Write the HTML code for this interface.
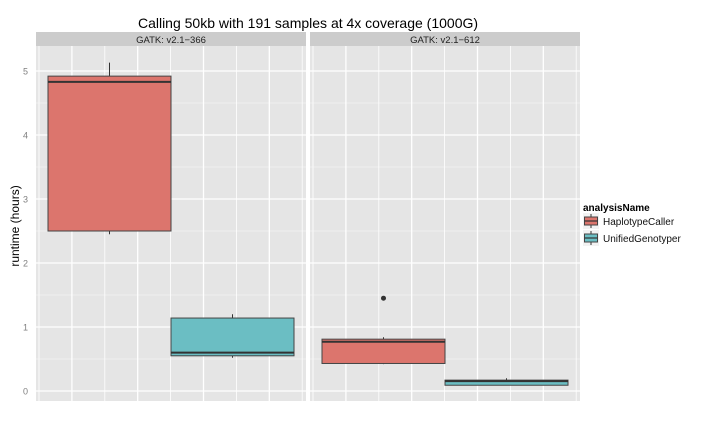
<!DOCTYPE html>
<html><head><meta charset="utf-8"><style>
body{margin:0;background:#fff;font-family:"Liberation Sans",sans-serif}
</style></head><body>
<svg id="chart" width="720" height="432" xmlns="http://www.w3.org/2000/svg" font-family="Liberation Sans, sans-serif">
<text x="308" y="28" text-anchor="middle" font-size="14">Calling 50kb with 191 samples at 4x coverage (1000G)</text>
<text transform="translate(19,226) rotate(-90)" text-anchor="middle" font-size="12">runtime (hours)</text>
<g id="legend">
<text x="583" y="211" font-size="10" font-weight="bold">analysisName</text>
</g>
<g id="panels"></g>
</svg>
<script>
const panels = ["GATK: v2.1\u2212366", "GATK: v2.1\u2212612"];
const groups = ["HaplotypeCaller", "UnifiedGenotyper"];
// per panel, per group: [lowerWhisker, q1, median, q3, upperWhisker]
const statsP1HC = [2.45, 2.5, 4.83, 4.92, 5.13];
const statsP1UG = [0.52, 0.55, 0.6, 1.14, 1.2];
const statsP2HC = [0.42, 0.43, 0.77, 0.81, 0.84];
const statsP2UG = [0.1, 0.09, 0.155, 0.17, 0.2];
const outliersP2HC = [1.45];
const yTicks = [0, 1, 2, 3, 4, 5];
const colors = ["#dc756d", "#6bbec3"];

const NS = "http://www.w3.org/2000/svg";
const gP = document.getElementById("panels");
function mk(tag, attrs, parent){const e=document.createElementNS(NS,tag);for(const k in attrs)e.setAttribute(k,attrs[k]);(parent||gP).appendChild(e);return e;}
const yScale = v => 391 - 64*v;
const panelX = [36, 310], panelW = 270, plotTop = 46, plotBottom = 401;
const stats = [[statsP1HC, statsP1UG],[statsP2HC, statsP2UG]];
const outliers = [[[],[]],[outliersP2HC,[]]];

panels.forEach((name, p) => {
  const x0 = panelX[p];
  const strip = mk("rect",{x:x0,y:32,width:panelW,height:14,fill:"#cccccc"});
  
  
  const st = mk("text",{x:x0+panelW/2,y:43,"text-anchor":"middle","font-size":"9.5",fill:"#222"});
  st.textContent = name;
  
  
  const bg = mk("rect",{x:x0,y:plotTop,width:panelW,height:plotBottom-plotTop,fill:"#e5e5e5"});
  
  
  for (let i=0;i<yTicks.length;i++){
    const v = yTicks[i]+0.5;
    if (yScale(v) > plotTop) { const l=mk("line",{x1:x0,x2:x0+panelW,y1:yScale(v),y2:yScale(v),stroke:"#f2f2f2","stroke-width":0.8});   }
  }
  yTicks.forEach(t => {
    const l=mk("line",{x1:x0,x2:x0+panelW,y1:yScale(t),y2:yScale(t),stroke:"#fff","stroke-width":1.3});
    
    
  });
  for (let i=0;i<9;i++){
    const gx = x0+3+i*32.9;
    const l=mk("line",{x1:gx,x2:gx,y1:plotTop,y2:plotBottom,stroke:"#fff","stroke-width":(i%2==1)?1.3:0.8});
    
    
  }
  const bw = 123, bx0 = x0+12;
  groups.forEach((g, gi) => {
    const s = stats[p][gi];
    const bx = bx0 + gi*bw, cx = bx + bw/2;
    const w = mk("line",{x1:cx,x2:cx,y1:yScale(s[4]),y2:yScale(s[0]),stroke:"#333","stroke-width":1});
    
    
    const lo=Math.min(s[1],s[3]), hi=Math.max(s[1],s[3]);
    const r = mk("rect",{x:bx,y:yScale(hi),width:bw,height:Math.max(1,yScale(lo)-yScale(hi)),fill:colors[gi],stroke:"#444","stroke-width":1});
    
    
    const m = mk("line",{x1:bx,x2:bx+bw,y1:yScale(s[2]),y2:yScale(s[2]),stroke:"#333","stroke-width":2});
    
    
    outliers[p][gi].forEach(o=>{
      const c = mk("circle",{cx:cx,cy:yScale(o),r:2.5,fill:"#333"});
      
      
    });
  });
});
yTicks.forEach(t=>{
  const tx = mk("text",{x:28,y:yScale(t)+3.5,"text-anchor":"end","font-size":"9",fill:"#7f7f7f"});
  tx.textContent = t;
  
  
});
const leg = document.getElementById("legend");
groups.forEach((g,i)=>{
  const ky = 213 + i*17;
  const kb = mk("rect",{x:583,y:ky,width:16,height:16,fill:"#f2f2f2"},leg);
  
  
  const kl = mk("line",{x1:591,x2:591,y1:ky+1,y2:ky+15,stroke:"#333"},leg);
  
  
  const kr = mk("rect",{x:584.5,y:ky+4,width:13,height:8,fill:colors[i],stroke:"#444"},leg);
  
  
  const km = mk("line",{x1:584.5,x2:597.5,y1:ky+8,y2:ky+8,stroke:"#333","stroke-width":1.2},leg);
  
  
  const lt = mk("text",{x:603,y:ky+12,"font-size":"10",fill:"#111"},leg);
  lt.textContent = g;
  
  
});
</script>
</body></html>
